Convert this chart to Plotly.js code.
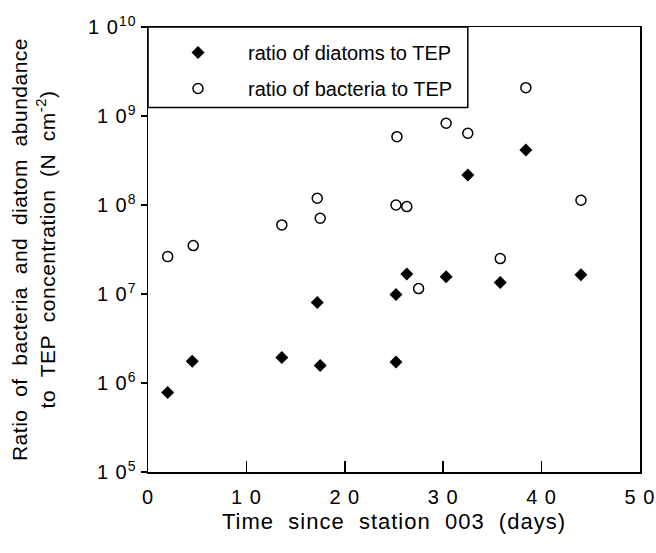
<!DOCTYPE html>
<html>
<head>
<meta charset="utf-8">
<script src="https://cdn.plot.ly/plotly-3.0.1.min.js"></script>
<style>
body{margin:0;padding:0;background:#fff;}
#chart{width:656px;height:553px;}
#chart .xtitle, #chart .xtick text, #chart .ytick text {letter-spacing:1px;}
#chart .ytitle {letter-spacing:0.5px;}
</style>
</head>
<body>
<div id="chart"></div>
<script>
// Diatoms to TEP (filled diamonds)
const diatomDays = [2.0, 4.5, 13.6, 17.2, 17.5, 25.2, 25.2, 26.3, 30.3, 32.5, 35.8, 38.4, 44.0];
const diatomRatio = [7.8e5, 1.76e6, 1.94e6, 8.0e6, 1.57e6, 1.72e6, 9.9e6, 1.68e7, 1.56e7, 2.18e8, 1.35e7, 4.15e8, 1.65e7];
// Bacteria to TEP (open circles)
const bacteriaDays = [2.0, 4.6, 13.6, 17.2, 17.5, 25.2, 25.3, 26.3, 27.5, 30.3, 32.5, 35.8, 38.4, 44.0];
const bacteriaRatio = [2.63e7, 3.5e7, 5.97e7, 1.19e8, 7.1e7, 1.0e8, 5.86e8, 9.6e7, 1.15e7, 8.3e8, 6.4e8, 2.5e7, 2.08e9, 1.13e8];
// Axis ticks
const xTickVals = [0, 10, 20, 30, 40, 50];
const xTickText = ['0', '1 0', '2 0', '3 0', '4 0', '5 0'];
const yTickVals = [1e5, 1e6, 1e7, 1e8, 1e9, 1e10];
const yTickText = ['1 0<sup>5</sup>', '1 0<sup>6</sup>', '1 0<sup>7</sup>', '1 0<sup>8</sup>', '1 0<sup>9</sup>', '1 0<sup>10</sup>'];
// Text
const seriesNames = ['ratio of diatoms to TEP', 'ratio of bacteria to TEP'];
const S = '\u00a0\u00a0';
const xTitle = ['Time', 'since', 'station', '003', '(days)'].join(S);
const yTitle = ['Ratio', 'of', 'bacteria', 'and', 'diatom', 'abundance'].join(S) + '<br>' +
               ['to', 'TEP', 'concentration', '(N', 'cm<sup>-2</sup>)'].join(S);

const FONT = 'Liberation Sans, Arial, Helvetica, sans-serif';

const traces = [
  {
    x: diatomDays, y: diatomRatio, type: 'scatter', mode: 'markers',
    name: seriesNames[0], legendgroup: 'a',
    marker: {symbol: 'diamond', size: 10, color: '#000'}
  },
  {
    x: bacteriaDays, y: bacteriaRatio, type: 'scatter', mode: 'markers',
    name: seriesNames[1], legendgroup: 'b',
    marker: {symbol: 'circle-open', size: 10, color: '#000', line: {width: 1.5, color: '#000'}}
  }
];

const layout = {
  width: 656, height: 553,
  margin: {l: 148, r: 16, t: 27, b: 81},
  paper_bgcolor: '#fff', plot_bgcolor: '#fff',
  font: {family: FONT, color: '#000', size: 18},
  showlegend: true,
  legend: {
    x: 0, y: 0.9865, xanchor: 'left', yanchor: 'top',
    borderwidth: 0, bgcolor: 'rgba(0,0,0,0)',
    font: {family: FONT, size: 20, color: '#000'},
    itemwidth: 90, tracegroupgap: 7, traceorder: 'grouped'
  },
  shapes: [{
    type: 'rect', xref: 'paper', yref: 'paper',
    x0: 0, x1: 0.65, y0: 0.819, y1: 1,
    line: {color: '#000', width: 1.5}, layer: 'above'
  }],
  xaxis: {
    range: [0, 50], tickvals: xTickVals, ticktext: xTickText,
    ticks: 'inside', ticklen: 11, tickwidth: 1.5, tickcolor: '#000',
    showline: true, linecolor: '#000', linewidth: 1.5, mirror: true,
    showgrid: false, zeroline: false, ticklabelstandoff: 6,
    tickfont: {family: FONT, size: 20, color: '#000'},
    title: {text: xTitle, font: {family: FONT, size: 22, color: '#000'}, standoff: 7}
  },
  yaxis: {
    type: 'log', range: [5, 10], tickvals: yTickVals, ticktext: yTickText,
    ticks: 'outside', ticklen: 6, tickwidth: 1.5, tickcolor: '#000',
    showline: true, linecolor: '#000', linewidth: 1.5, mirror: true,
    showgrid: false, zeroline: false,
    tickfont: {family: FONT, size: 20, color: '#000'},
    title: {text: yTitle, font: {family: FONT, size: 21, color: '#000'}, standoff: 32}
  }
};

Plotly.newPlot('chart', traces, layout, {displayModeBar: false, staticPlot: true});
</script>
</body>
</html>
